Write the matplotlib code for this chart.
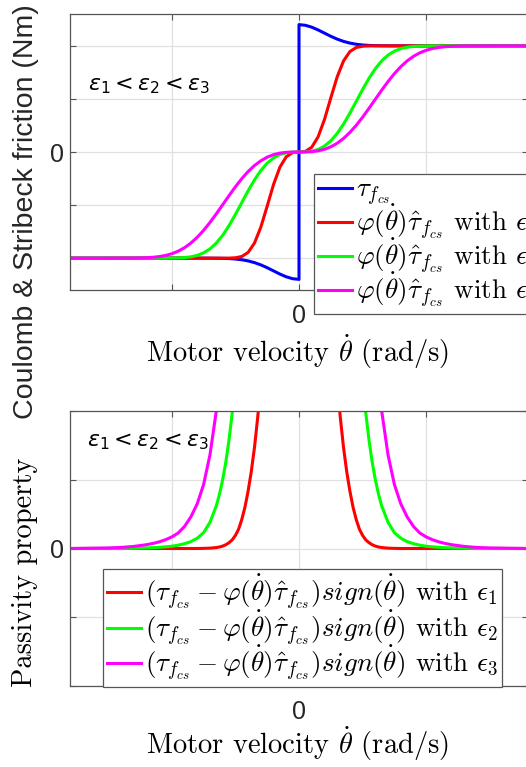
import matplotlib
matplotlib.use('Agg')
import matplotlib.pyplot as plt
import numpy as np

plt.rcParams['font.family'] = ['Liberation Sans', 'DejaVu Sans']
plt.rcParams['mathtext.fontset'] = 'cm'

# velocity samples (rad/s), positive half; the curves are mirrored about zero
vel_top = [0.0, 0.05, 0.1, 0.15, 0.2, 0.25, 0.3, 0.35, 0.4, 0.45, 0.5, 0.55, 0.6, 0.65,
           0.7, 0.75, 0.8, 0.85, 0.9, 0.95, 1.0, 1.05, 1.1, 1.15, 1.2, 1.25, 1.3, 1.5, 1.8]

# Coulomb & Stribeck friction (odd in velocity)
tau_fcs = [2.400, 2.387, 2.352, 2.300, 2.240, 2.180, 2.127, 2.084, 2.052, 2.030, 2.016,
           2.008, 2.004, 2.002, 2.001, 2.0, 2.0, 2.0, 2.0, 2.0, 2.0, 2.0, 2.0, 2.0, 2.0,
           2.0, 2.0, 2.0, 2.0]
phi_tau_eps1 = [0.0, 0.011, 0.089, 0.285, 0.611, 1.019, 1.415, 1.716, 1.892, 1.969, 1.993,
                1.999, 2.0, 2.0, 2.0, 2.0, 2.0, 2.0, 2.0, 2.0, 2.0, 2.0, 2.0, 2.0, 2.0,
                2.0, 2.0, 2.0, 2.0]
phi_tau_eps2 = [0.0, 0.002, 0.014, 0.047, 0.111, 0.210, 0.349, 0.526, 0.731, 0.954, 1.178,
                1.387, 1.570, 1.716, 1.826, 1.900, 1.948, 1.975, 1.989, 1.996, 1.998,
                2.0, 2.0, 2.0, 2.0, 2.0, 2.0, 2.0, 2.0]
phi_tau_eps3 = [0.0, 0.001, 0.006, 0.021, 0.050, 0.097, 0.165, 0.255, 0.368, 0.503, 0.656,
                0.822, 0.994, 1.165, 1.328, 1.477, 1.607, 1.716, 1.803, 1.869, 1.917,
                1.950, 1.971, 1.984, 1.992, 1.996, 1.998, 2.0, 2.0]

# passivity property (even in velocity)
vel_bot = [0.0, 0.1, 0.2, 0.25, 0.3, 0.325, 0.35, 0.375, 0.4, 0.425, 0.45, 0.475, 0.5,
           0.525, 0.55, 0.575, 0.6, 0.625, 0.65, 0.7, 0.75, 0.8, 0.85, 0.9, 0.95, 1.0,
           1.05, 1.1, 1.15, 1.2, 1.3, 1.4, 1.5, 1.8]
pass_eps1 = [9.35, 8.0, 5.3, 3.64, 2.40, 1.90, 1.47, 1.12, 0.835, 0.60, 0.42, 0.28, 0.19,
             0.125, 0.085, 0.055, 0.035, 0.022, 0.014, 0.005, 0.002, 0.0, 0.0, 0.0, 0.0,
             0.0, 0.0, 0.0, 0.0, 0.0, 0.0, 0.0, 0.0, 0.0]
pass_eps2 = [9.1, 8.6, 7.3, 6.5, 5.8, 5.4, 5.0, 4.6, 4.25, 3.9, 3.5, 3.05, 2.45, 1.97,
             1.58, 1.26, 1.0, 0.79, 0.62, 0.38, 0.23, 0.15, 0.10, 0.07, 0.048, 0.033,
             0.024, 0.017, 0.012, 0.008, 0.004, 0.002, 0.001, 0.0]
pass_eps3 = [9.0, 8.7, 8.1, 7.7, 7.2, 6.9, 6.6, 6.3, 6.0, 5.6, 5.2, 4.8, 4.4, 4.0, 3.6,
             3.25, 2.9, 2.42, 2.0, 1.36, 0.93, 0.65, 0.46, 0.32, 0.225, 0.168, 0.127,
             0.096, 0.073, 0.055, 0.03, 0.015, 0.008, 0.0]

colors = ['#0000ff', '#ff0000', '#00ff00', '#ff00ff']
top_labels = [r'$\tau_{f_{cs}}$',
              r'$\varphi(\dot{\theta})\hat{\tau}_{f_{cs}}$ with $\epsilon_1$',
              r'$\varphi(\dot{\theta})\hat{\tau}_{f_{cs}}$ with $\epsilon_2$',
              r'$\varphi(\dot{\theta})\hat{\tau}_{f_{cs}}$ with $\epsilon_3$']
bot_labels = [r'$(\tau_{f_{cs}} - \varphi(\dot{\theta})\hat{\tau}_{f_{cs}})sign(\dot{\theta})$ with $\epsilon_%d$' % k
              for k in (1, 2, 3)]


def odd_mirror(v, y):
    v = np.asarray(v); y = np.asarray(y)
    return np.concatenate([-v[::-1], v]), np.concatenate([-y[::-1], y])


def even_mirror(v, y):
    v = np.asarray(v); y = np.asarray(y)
    return np.concatenate([-v[::-1], v]), np.concatenate([y[::-1], y])


def style_axes(ax, ylim, yticks):
    ax.set_xlim(-1.8, 1.8)
    ax.set_ylim(*ylim)
    ax.set_xticks([-1, 0, 1])
    ax.set_xticklabels(['', '0', ''])
    ax.set_yticks(yticks)
    ax.set_yticklabels(['0' if t == 0 else '' for t in yticks])
    ax.grid(True, color='#e0e0e0', lw=0.9)
    ax.set_axisbelow(True)
    ax.tick_params(direction='in', top=True, right=True, length=4, width=0.8,
                   color='#555555', labelcolor='#262626', labelsize=18)
    ax.tick_params(axis='x', pad=10)
    ax.tick_params(axis='y', pad=4)
    for s in ax.spines.values():
        s.set_color('#555555')
        s.set_linewidth(0.9)


def make_legend(ax, handles, labels, anchor, size, spacing):
    leg = ax.legend(handles, labels, loc='upper left', bbox_to_anchor=anchor,
                    bbox_transform=fig.transFigure, prop={'family': 'cmr10', 'size': size},
                    fancybox=False, framealpha=1, edgecolor='#555555', borderpad=0.15,
                    handlelength=1.25, handletextpad=0.15, labelspacing=spacing,
                    borderaxespad=0)
    leg.get_frame().set_linewidth(0.9)
    return leg


W, H = 526, 767
fig = plt.figure(figsize=(W / 100, H / 100), dpi=100)
ax1 = fig.add_axes([70 / W, 1 - 290 / H, 458 / W, 276 / H])
ax2 = fig.add_axes([70 / W, 1 - 686 / H, 458 / W, 275 / H])

# top: friction curves
lines = []
for vals, c in zip([tau_fcs, phi_tau_eps1, phi_tau_eps2, phi_tau_eps3], colors):
    x, y = odd_mirror(vel_top, vals)
    ln, = ax1.plot(x, y, color=c, lw=2.2)
    lines.append(ln)
style_axes(ax1, (-2.6, 2.6), [-2, -1, 0, 1, 2])
make_legend(ax1, lines, top_labels, (314 / W, 1 - 174 / H), 19.5, -0.2)

# bottom: passivity property
lines2 = []
for vals, c in zip([pass_eps1, pass_eps2, pass_eps3], colors[1:]):
    x, y = even_mirror(vel_bot, vals)
    ln, = ax2.plot(x, y, color=c, lw=2.2)
    lines2.append(ln)
style_axes(ax2, (-2, 2), [-2, -1, 0, 1, 2])
make_legend(ax2, lines2, bot_labels, (103 / W, 1 - 569 / H), 19.5, -0.15)

# labels
xlab = r'Motor velocity $\dot{\theta}$ (rad/s)'
fig.text(297 / W, 1 - 352 / H, xlab, family='cmr10', fontsize=20.5, ha='center', va='center')
fig.text(297 / W, 1 - 744 / H, xlab, family='cmr10', fontsize=20.5, ha='center', va='center')
fig.text(26 / W, 1 - 212 / H, 'Coulomb & Stribeck friction (Nm)', fontsize=20.5,
         rotation=90, ha='center', va='center', color='#262626')
fig.text(25 / W, 1 - 572 / H, 'Passivity property', family='cmr10', fontsize=20.5,
         rotation=90, ha='center', va='center')

eps_txt = r'$\epsilon_1 < \epsilon_2 < \epsilon_3$'
fig.text(88 / W, 1 - 86 / H, eps_txt, fontsize=16, math_fontfamily='dejavusans', va='center')
fig.text(87 / W, 1 - 441 / H, eps_txt, fontsize=16, math_fontfamily='dejavusans', va='center')

fig.savefig('out.png', dpi=100)
